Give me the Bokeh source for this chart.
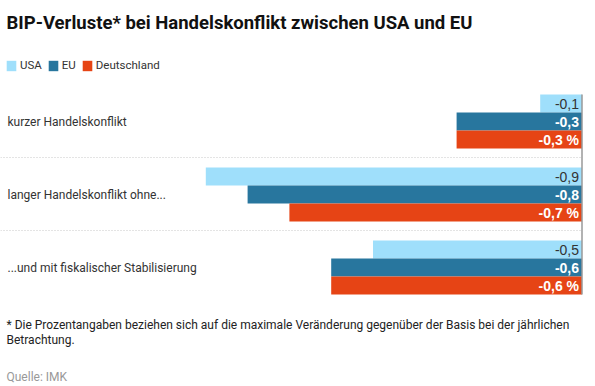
from bokeh.plotting import figure
from bokeh.models import ColumnDataSource, Range1d, Label, Legend, LegendItem
from bokeh.core.properties import value
from bokeh.embed import file_html
from bokeh.resources import INLINE

# ---- data ----
scenarios = ["kurzer Handelskonflikt", "langer Handelskonflikt ohne...", "...und mit fiskalischer Stabilisierung"]
series_names = ["USA", "EU", "Deutschland"]
usa = [-0.1, -0.9, -0.5]
eu = [-0.3, -0.8, -0.6]
deutschland = [-0.3, -0.7, -0.6]
title_text = "BIP-Verluste* bei Handelskonflikt zwischen USA und EU"
footnote_1 = "* Die Prozentangaben beziehen sich auf die maximale Veränderung gegenüber der Basis bei der jährlichen"
footnote_2 = "Betrachtung."
source_text = "Quelle: IMK"

# ---- style ----
colors = ["#9fdffb", "#28769e", "#e64415"]
label_colors = ["#333333", "#ffffff", "#ffffff"]
label_styles = ["normal", "bold", "bold"]
label_suffix = ["", "", " %"]
BODY = "Roboto"
VALFONT = "Liberation Sans"

W, H = 595, 386
PX_PER_UNIT = 418.0
ZERO_PX = 581.5  # canvas x of zero
xmin = -ZERO_PX / PX_PER_UNIT
xmax = (W - ZERO_PX) / PX_PER_UNIT

p = figure(width=W, height=H, output_backend="svg", toolbar_location=None,
           x_range=Range1d(xmin, xmax), y_range=Range1d(H, 0),
           x_axis_type=None, y_axis_type=None, min_border=0,
           outline_line_color=None)
p.xgrid.visible = False
p.ygrid.visible = False
p.background_fill_color = "white"
p.border_fill_color = "white"

BAR_H = 18
GROUP_PITCH = 73
FIRST_TOP = 94

def bar_center(g, s):
    return FIRST_TOP + GROUP_PITCH * g + BAR_H * s + BAR_H / 2

renderers = []
for s, (name, vals) in enumerate(zip(series_names, [usa, eu, deutschland])):
    ys = [bar_center(g, s) for g in range(len(scenarios))]
    labels = [("%.1f" % v).replace(".", ",") + label_suffix[s] for v in vals]
    src = ColumnDataSource(dict(y=ys, left=vals, right=[0] * len(vals), lab=labels))
    r = p.hbar(y="y", left="left", right="right", height=BAR_H, source=src,
               fill_color=colors[s], line_color=None)
    renderers.append(r)
    p.text(x="right", y="y", text="lab", source=src, x_offset=-3,
           text_align="right", text_baseline="middle",
           text_font=value(VALFONT), text_font_size="14px",
           text_font_style=label_styles[s], text_color=label_colors[s])

# separators between groups
sep_y = [FIRST_TOP + GROUP_PITCH * g - 10 for g in range(1, len(scenarios))]
p.segment(x0=[xmin] * len(sep_y), x1=[0] * len(sep_y), y0=sep_y, y1=sep_y,
          line_color="#c8c8c8", line_width=1, line_dash="1 2")

# zero axis line
p.segment(x0=[0], x1=[0], y0=[FIRST_TOP], y1=[FIRST_TOP + GROUP_PITCH * 2 + BAR_H * 3],
          line_color="#999999", line_width=1.5)

# category labels
for g, name in enumerate(scenarios):
    p.add_layout(Label(x=7, x_units="screen", y=FIRST_TOP + GROUP_PITCH * g + 27,
                       text=name, text_font=BODY, text_font_size="12px",
                       text_color="#333333", text_baseline="middle"))

# title
p.add_layout(Label(x=6, x_units="screen", y=22, text=title_text,
                   text_font=BODY, text_font_size="18.5px", text_font_style="bold",
                   text_color="#111111", text_baseline="alphabetic"))

# legend
legend = Legend(items=[LegendItem(label=n, renderers=[r]) for n, r in zip(series_names, renderers)],
                orientation="horizontal", location=(5, H - 72),
                glyph_width=12, glyph_height=13, label_standoff=3, spacing=5,
                padding=0, margin=0, border_line_color=None, background_fill_alpha=0,
                label_text_font=BODY, label_text_font_size="11.5px",
                label_text_color="#333333", label_height=13, label_width=0)
p.add_layout(legend)

# footnotes
p.add_layout(Label(x=6, x_units="screen", y=324, text=footnote_1, text_font=BODY,
                   text_font_size="12px", text_color="#222222", text_baseline="alphabetic"))
p.add_layout(Label(x=6, x_units="screen", y=339, text=footnote_2, text_font=BODY,
                   text_font_size="12px", text_color="#222222", text_baseline="alphabetic"))
p.add_layout(Label(x=6, x_units="screen", y=376, text=source_text, text_font=BODY,
                   text_font_size="12px", text_color="#999999", text_baseline="alphabetic"))

open("out.html", "w").write(file_html(p, INLINE))
